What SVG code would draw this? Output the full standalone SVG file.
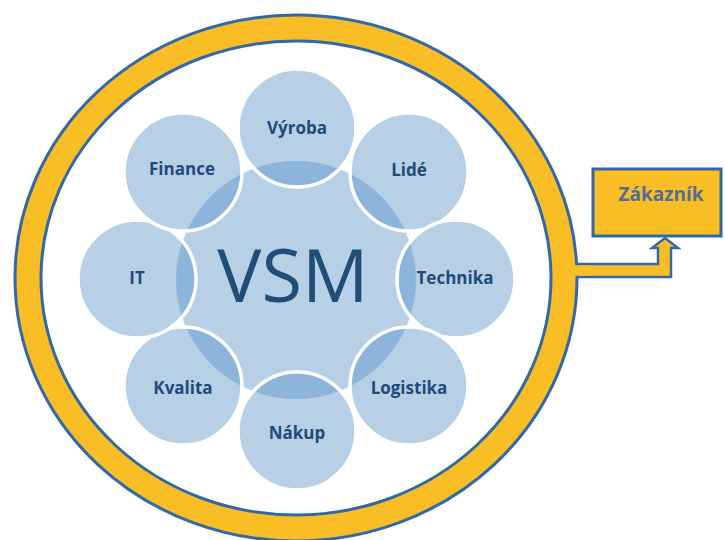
<svg xmlns="http://www.w3.org/2000/svg" width="725" height="540" viewBox="0 0 725 540">
<style>
.lbl{font-family:"Open Sans","Liberation Sans",sans-serif;font-weight:700;font-size:17px;fill:#1f4a7c;text-anchor:middle}
.sat{fill:#b8d0e6}
.lens{fill:#8db4da}
.edge{fill:none;stroke:#ffffff;stroke-width:3.5}
</style>
<defs>
<clipPath id="core"><ellipse cx="296" cy="280" rx="120" ry="119"/></clipPath>
</defs>
<rect width="725" height="540" fill="#ffffff"/>
<g id="connectors">
<path d="M560,264 L658,264 L658,248 L652,248 L665,238 L678,248 L671,248 L671,277 L560,277 Z" fill="#f9bd26" stroke="#3169a8" stroke-width="2.5" stroke-linejoin="miter"/>
</g>
<g id="ring">
<ellipse cx="296" cy="278" rx="268" ry="250" fill="#ffffff" stroke="#3169a8" stroke-width="29"/>
<ellipse cx="296" cy="278" rx="268" ry="250" fill="none" stroke="#f9bd26" stroke-width="23"/>
</g>
<path d="M575,265.3 L590,265.3 L590,275.7 L575,275.7 Z" fill="#f9bd26"/>
<g id="vsm">
<ellipse cx="296" cy="280" rx="120" ry="119" fill="#b8d0e6"/>
<text x="293" y="302" font-family="'Open Sans','Liberation Sans',sans-serif" font-size="74" fill="#1f4e79" text-anchor="middle">VSM</text>
</g>
<g id="vyroba">
<circle class="sat" cx="297" cy="128" r="59"/>
<circle class="lens" cx="297" cy="128" r="59" clip-path="url(#core)"/>
<circle class="edge" cx="297" cy="128" r="59"/>
<text class="lbl" x="297" y="134">Výroba</text>
</g>
<g id="lide">
<circle class="sat" cx="409" cy="172" r="59"/>
<circle class="lens" cx="409" cy="172" r="59" clip-path="url(#core)"/>
<circle class="edge" cx="409" cy="172" r="59"/>
<text class="lbl" x="409" y="176">Lidé</text>
</g>
<g id="technika">
<circle class="sat" cx="456" cy="279" r="59"/>
<circle class="lens" cx="456" cy="279" r="59" clip-path="url(#core)"/>
<circle class="edge" cx="456" cy="279" r="59"/>
<text class="lbl" x="455" y="284">Technika</text>
</g>
<g id="logistika">
<circle class="sat" cx="409" cy="386" r="59"/>
<circle class="lens" cx="409" cy="386" r="59" clip-path="url(#core)"/>
<circle class="edge" cx="409" cy="386" r="59"/>
<text class="lbl" x="409" y="394">Logistika</text>
</g>
<g id="nakup">
<circle class="sat" cx="297" cy="431" r="59"/>
<circle class="lens" cx="297" cy="431" r="59" clip-path="url(#core)"/>
<circle class="edge" cx="297" cy="431" r="59"/>
<text class="lbl" x="297" y="439">Nákup</text>
</g>
<g id="kvalita">
<circle class="sat" cx="183" cy="386" r="59"/>
<circle class="lens" cx="183" cy="386" r="59" clip-path="url(#core)"/>
<circle class="edge" cx="183" cy="386" r="59"/>
<text class="lbl" x="183" y="394">Kvalita</text>
</g>
<g id="it">
<circle class="sat" cx="137" cy="279" r="59"/>
<circle class="lens" cx="137" cy="279" r="59" clip-path="url(#core)"/>
<circle class="edge" cx="137" cy="279" r="59"/>
<text class="lbl" x="137" y="284">IT</text>
</g>
<g id="finance">
<circle class="sat" cx="183" cy="172" r="59"/>
<circle class="lens" cx="183" cy="172" r="59" clip-path="url(#core)"/>
<circle class="edge" cx="183" cy="172" r="59"/>
<text class="lbl" x="182" y="175">Finance</text>
</g>
<g id="zakaznik">
<rect x="593" y="169" width="128" height="67" fill="#f9bd26" stroke="#3169a8" stroke-width="3"/>
<text x="661" y="201" font-family="'Open Sans','Liberation Sans',sans-serif" font-weight="700" font-size="19" fill="#4f6e99" text-anchor="middle">Zákazník</text>
</g>
</svg>
